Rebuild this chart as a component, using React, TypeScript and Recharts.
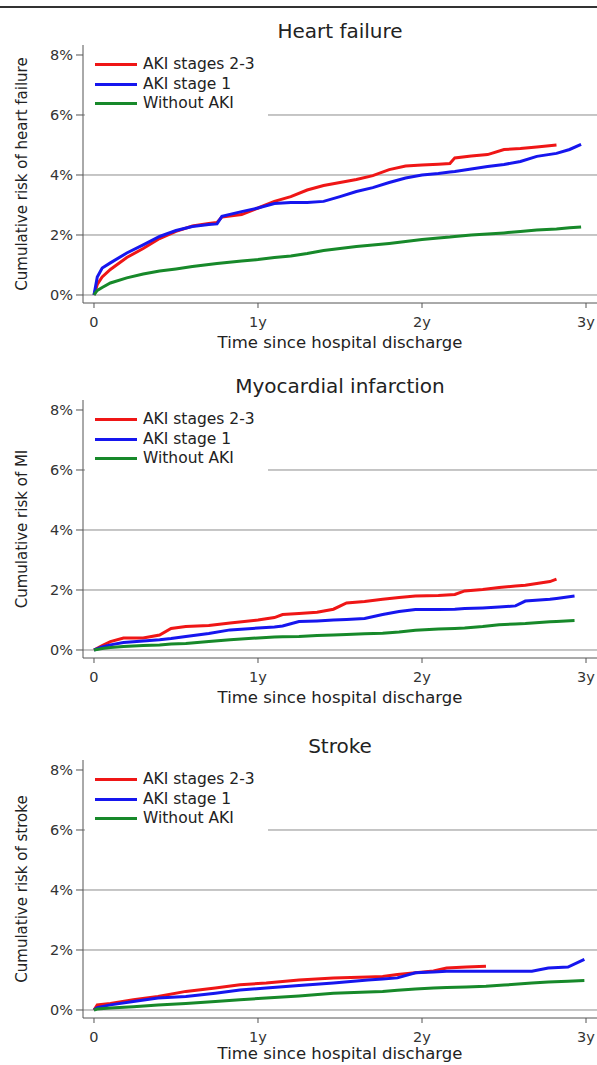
import { LineChart, Line, XAxis, YAxis, ReferenceLine, Legend, Customized } from "recharts";

const FONT = "'DejaVu Sans', sans-serif";

const SERIES_KEYS = ["aki23", "aki1", "noAki"];
const SERIES_NAMES = ["AKI stages 2-3", "AKI stage 1", "Without AKI"];
const SERIES_COLORS = ["#ef1616", "#1616ee", "#17892a"];

const X_TICKS = [0, 1, 2, 3];
const X_TICK_LABELS = ["0", "1y", "2y", "3y"];
const Y_TICKS = [0, 2, 4, 6, 8];
const GRID_VALUES = [0, 2, 4, 6];

// Heart failure (years since discharge, cumulative risk %)
const hfTime = [0, 0.02, 0.05, 0.1, 0.2, 0.3, 0.4, 0.5, 0.6, 0.7, 0.75, 0.78, 0.9, 1.0, 1.1, 1.2, 1.3, 1.4, 1.5, 1.6, 1.7, 1.8, 1.9, 2.0, 2.1, 2.17, 2.2, 2.3, 2.4, 2.5, 2.6, 2.7, 2.82, 2.9, 2.97];
const hfAki23 = [0, 0.35, 0.6, 0.85, 1.25, 1.55, 1.88, 2.12, 2.3, 2.38, 2.42, 2.6, 2.68, 2.9, 3.12, 3.28, 3.5, 3.65, 3.75, 3.85, 3.98, 4.18, 4.3, 4.33, 4.36, 4.38, 4.57, 4.63, 4.68, 4.85, 4.88, 4.93, 5.0, null, null];
const hfAki1 = [0, 0.6, 0.9, 1.07, 1.4, 1.67, 1.95, 2.15, 2.28, 2.35, 2.37, 2.62, 2.78, 2.9, 3.05, 3.08, 3.08, 3.12, 3.28, 3.45, 3.58, 3.75, 3.9, 4.0, 4.05, 4.1, 4.12, 4.2, 4.28, 4.35, 4.45, 4.62, 4.72, 4.85, 5.02];
const hfNoAki = [0, 0.15, 0.25, 0.4, 0.57, 0.7, 0.8, 0.87, 0.95, 1.02, 1.05, 1.07, 1.13, 1.18, 1.25, 1.3, 1.38, 1.48, 1.55, 1.62, 1.67, 1.72, 1.78, 1.85, 1.9, 1.93, 1.95, 2.0, 2.03, 2.07, 2.12, 2.17, 2.2, 2.24, 2.27];

// Myocardial infarction
const miTime = [0, 0.05, 0.1, 0.18, 0.3, 0.4, 0.47, 0.56, 0.7, 0.83, 1.0, 1.1, 1.15, 1.25, 1.36, 1.46, 1.54, 1.65, 1.76, 1.86, 1.96, 2.1, 2.2, 2.26, 2.37, 2.47, 2.57, 2.63, 2.78, 2.82, 2.93];
const miAki23 = [0, 0.15, 0.28, 0.4, 0.4, 0.5, 0.72, 0.78, 0.82, 0.9, 1.0, 1.08, 1.18, 1.22, 1.26, 1.36, 1.57, 1.62, 1.69, 1.75, 1.8, 1.82, 1.85, 1.97, 2.02, 2.08, 2.13, 2.16, 2.28, 2.36, null];
const miAki1 = [0, 0.1, 0.17, 0.25, 0.3, 0.34, 0.38, 0.45, 0.55, 0.67, 0.73, 0.77, 0.8, 0.95, 0.97, 1.0, 1.02, 1.05, 1.18, 1.28, 1.35, 1.35, 1.36, 1.38, 1.4, 1.43, 1.47, 1.63, 1.69, 1.72, 1.8];
const miNoAki = [0, 0.05, 0.08, 0.12, 0.15, 0.17, 0.2, 0.22, 0.28, 0.34, 0.4, 0.43, 0.44, 0.45, 0.48, 0.5, 0.52, 0.54, 0.56, 0.6, 0.66, 0.7, 0.72, 0.73, 0.78, 0.84, 0.87, 0.88, 0.94, 0.95, 0.98];

// Stroke
const stTime = [0, 0.02, 0.1, 0.24, 0.39, 0.56, 0.74, 0.89, 1.05, 1.25, 1.46, 1.67, 1.76, 1.85, 1.96, 2.07, 2.15, 2.27, 2.39, 2.5, 2.67, 2.77, 2.89, 2.99];
const stAki23 = [0, 0.17, 0.22, 0.34, 0.45, 0.62, 0.73, 0.84, 0.9, 1.0, 1.07, 1.1, 1.12, 1.18, 1.24, 1.3, 1.4, 1.43, 1.46, null, null, null, null, null];
const stAki1 = [0, 0.08, 0.17, 0.28, 0.4, 0.45, 0.56, 0.67, 0.73, 0.82, 0.9, 1.0, 1.03, 1.07, 1.24, 1.27, 1.29, 1.29, 1.29, 1.29, 1.29, 1.4, 1.43, 1.69];
const stNoAki = [0, 0.03, 0.07, 0.11, 0.17, 0.22, 0.28, 0.34, 0.4, 0.47, 0.56, 0.6, 0.62, 0.66, 0.7, 0.73, 0.75, 0.77, 0.79, 0.83, 0.9, 0.93, 0.96, 0.98];

const toRows = (time: number[], a: (number | null)[], b: (number | null)[], c: (number | null)[]) =>
  time.map((t, i) => ({ t, aki23: a[i], aki1: b[i], noAki: c[i] }));

// legend keeps the original series order (recharts sorts its payload by name)
const LegendBox = () => (
  <div style={{ background: "#fff", width: 183, height: 62, fontFamily: FONT, fontSize: 15.5, color: "#222" }}>
    {SERIES_NAMES.map((name, i) => (
      <div key={name} style={{ display: "flex", alignItems: "center", height: 19.5, paddingLeft: 10 }}>
        <span style={{ display: "inline-block", width: 42, height: 3, background: SERIES_COLORS[i], marginRight: 6 }} />
        <span style={{ lineHeight: "19.5px", whiteSpace: "nowrap" }}>{name}</span>
      </div>
    ))}
  </div>
);

interface PanelProps {
  top: number;
  title: string;
  yLabel: string;
  rows: any[];
  xLabelOffset?: number;
}

const Panel = ({ top, title, yLabel, rows, xLabelOffset = 5 }: PanelProps) => (
  <div style={{ position: "absolute", left: 0, top }}>
    <LineChart width={597} height={360} data={rows} margin={{ top: 45, right: 0, bottom: 7, left: 0 }}>
      <XAxis
        type="number"
        dataKey="t"
        domain={[-0.067, 3.067]}
        ticks={X_TICKS}
        tickFormatter={(v: number) => X_TICK_LABELS[X_TICKS.indexOf(v)]}
        allowDataOverflow
        height={50}
        tickSize={5}
        tickMargin={9}
        stroke="#555"
        tick={{ fill: "#333", fontSize: 14.5, fontFamily: FONT }}
        label={{ value: "Time since hospital discharge", position: "insideBottom", offset: xLabelOffset, fill: "#222", fontSize: 16.5, fontFamily: FONT }}
      />
      <YAxis
        type="number"
        domain={[-0.267, 8.333]}
        ticks={Y_TICKS}
        tickFormatter={(v: number) => `${v}%`}
        allowDataOverflow
        width={83}
        tickSize={7}
        tickMargin={3}
        stroke="#555"
        tick={{ fill: "#333", fontSize: 14.5, fontFamily: FONT }}
        label={{ value: yLabel, angle: -90, position: "center", dx: -20, fill: "#222", fontSize: 15, fontFamily: FONT }}
      />
      {GRID_VALUES.map((v) => (
        <ReferenceLine key={v} y={v} stroke="#8c8c8c" strokeWidth={1} />
      ))}
      {SERIES_KEYS.map((key, i) => (
        <Line
          key={key}
          type="linear"
          dataKey={key}
          name={SERIES_NAMES[i]}
          stroke={SERIES_COLORS[i]}
          strokeWidth={3}
          dot={false}
          isAnimationActive={false}
        />
      ))}
      <Legend
        content={LegendBox}
        layout="vertical"
        align="center"
        verticalAlign="middle"
        wrapperStyle={{ top: 55, left: 85, width: 183, height: 62 }}
      />
      <Customized
        component={() => (
          <text x={340} y={38} textAnchor="middle" fill="#222" fontSize={20} fontFamily={FONT}>
            {title}
          </text>
        )}
      />
    </LineChart>
  </div>
);

const App = () => (
  <div style={{ position: "absolute", left: 0, top: 0, width: 597, height: 1065, overflow: "hidden", background: "#fff" }}>
    <div style={{ position: "absolute", left: 0, top: 6, width: 597, height: 2, background: "#333" }} />
    <Panel top={0} title="Heart failure" yLabel="Cumulative risk of heart failure" rows={toRows(hfTime, hfAki23, hfAki1, hfNoAki)} />
    <Panel top={355} title="Myocardial infarction" yLabel="Cumulative risk of MI" rows={toRows(miTime, miAki23, miAki1, miNoAki)} />
    <Panel top={715} title="Stroke" yLabel="Cumulative risk of stroke" rows={toRows(stTime, stAki23, stAki1, stNoAki)} xLabelOffset={9} />
  </div>
);

export default App;
